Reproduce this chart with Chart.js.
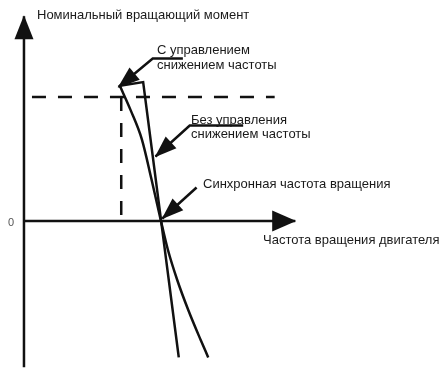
<!DOCTYPE html>
<html>
<head>
<meta charset="utf-8">
<script src="https://cdn.jsdelivr.net/npm/chart.js@4"></script>
<style>
  body { margin: 0; background: #fff; }
  canvas { display: block; }
</style>
</head>
<body>
<canvas id="chart" width="447" height="373"></canvas>
<script>
  // speed in % of synchronous speed, torque in % of nominal torque
  const noControlCurve = [[70, 109], [78, 89], [86, 66], [93, 34], [100, 0], [105, -23], [112, -48], [120, -72], [129, -96], [134.5, -110]];
  const withControlLine = [[70, 109], [87, 112], [113, -110]];

  const nominalTorque = [[0, 100], [183, 100]];
  const dropLine = [[71, 100], [71, 0]];

  const yAxisLine = [[0, -118], [0, 165]];
  const xAxisLine = [[0, 0], [198, 0]];

  // callout arrows, last point is the tip
  const arrowWithControl = [[116, 131], [94, 131], [69, 108]];
  const arrowNoControl = [[160, 77], [121, 77], [96, 52]];
  const arrowSync = [[126, 27], [101, 2]];

  const labelTexts = [
    "Номинальный вращающий момент",
    "С управлением",
    "снижением частоты",
    "Без управления",
    "снижением частоты",
    "Синхронная частота вращения",
    "Частота вращения двигателя",
    "0"
  ];

  const toPts = (arr) => arr.map(([x, y]) => ({ x, y }));
  const ink = "#111";

  function line(data, extra) {
    return Object.assign({
      data: toPts(data),
      showLine: true,
      borderColor: ink,
      borderWidth: 2.5,
      pointRadius: 0,
      fill: false,
      tension: 0
    }, extra || {});
  }

  // arrowheads at the last point of flagged datasets + text labels
  const arrowsAndText = {
    id: "arrowsAndText",
    afterDatasetsDraw(chart) {
      const ctx = chart.ctx;
      const xs = chart.scales.x, ys = chart.scales.y;
      chart.data.datasets.forEach((ds) => {
        if (!ds.head) return;
        const n = ds.data.length;
        const p1 = ds.data[n - 2], p2 = ds.data[n - 1];
        const x1 = xs.getPixelForValue(p1.x), y1 = ys.getPixelForValue(p1.y);
        const x2 = xs.getPixelForValue(p2.x), y2 = ys.getPixelForValue(p2.y);
        const a = Math.atan2(y2 - y1, x2 - x1);
        const L = ds.head[0], W = ds.head[1] / 2;
        ctx.save();
        ctx.fillStyle = ink;
        ctx.beginPath();
        ctx.moveTo(x2 + Math.cos(a) * 1, y2 + Math.sin(a) * 1);
        ctx.lineTo(x2 - Math.cos(a) * L - Math.sin(a) * W, y2 - Math.sin(a) * L + Math.cos(a) * W);
        ctx.lineTo(x2 - Math.cos(a) * L + Math.sin(a) * W, y2 - Math.sin(a) * L - Math.cos(a) * W);
        ctx.closePath();
        ctx.fill();
        ctx.restore();
      });

      const pos = [[37, 19], [157, 54], [157, 69], [191, 124], [191, 138], [203, 188], [263, 244], [8, 226]];
      ctx.save();
      ctx.textBaseline = "alphabetic";
      ctx.textAlign = "left";
      labelTexts.forEach((t, i) => {
        ctx.font = i === 7 ? "11px 'Liberation Sans', Arial, sans-serif" : "13px 'Liberation Sans', Arial, sans-serif";
        ctx.fillStyle = i === 7 ? "#555" : "#1a1a1a";
        ctx.fillText(t, pos[i][0], pos[i][1]);
      });
      ctx.restore();
    }
  };

  new Chart(document.getElementById("chart"), {
    type: "scatter",
    data: {
      datasets: [
        line(nominalTorque, { borderDash: [14, 12], borderDashOffset: 18 }),
        line(dropLine, { borderDash: [14, 12] }),
        line(yAxisLine, { head: [23, 19] }),
        line(xAxisLine, { head: [23, 21] }),
        line(noControlCurve, { cubicInterpolationMode: "monotone" }),
        line(withControlLine),
        line(arrowWithControl, { head: [21, 16] }),
        line(arrowNoControl, { head: [21, 16] }),
        line(arrowSync, { head: [21, 16] })
      ]
    },
    options: {
      responsive: false,
      animation: false,
      layout: { padding: 0 },
      plugins: { legend: { display: false }, tooltip: { enabled: false } },
      scales: {
        x: { type: "linear", display: false, min: -17.5, max: 308.8 },
        y: { type: "linear", display: false, min: -122.6, max: 178.2 }
      }
    },
    plugins: [arrowsAndText]
  });
</script>
</body>
</html>
